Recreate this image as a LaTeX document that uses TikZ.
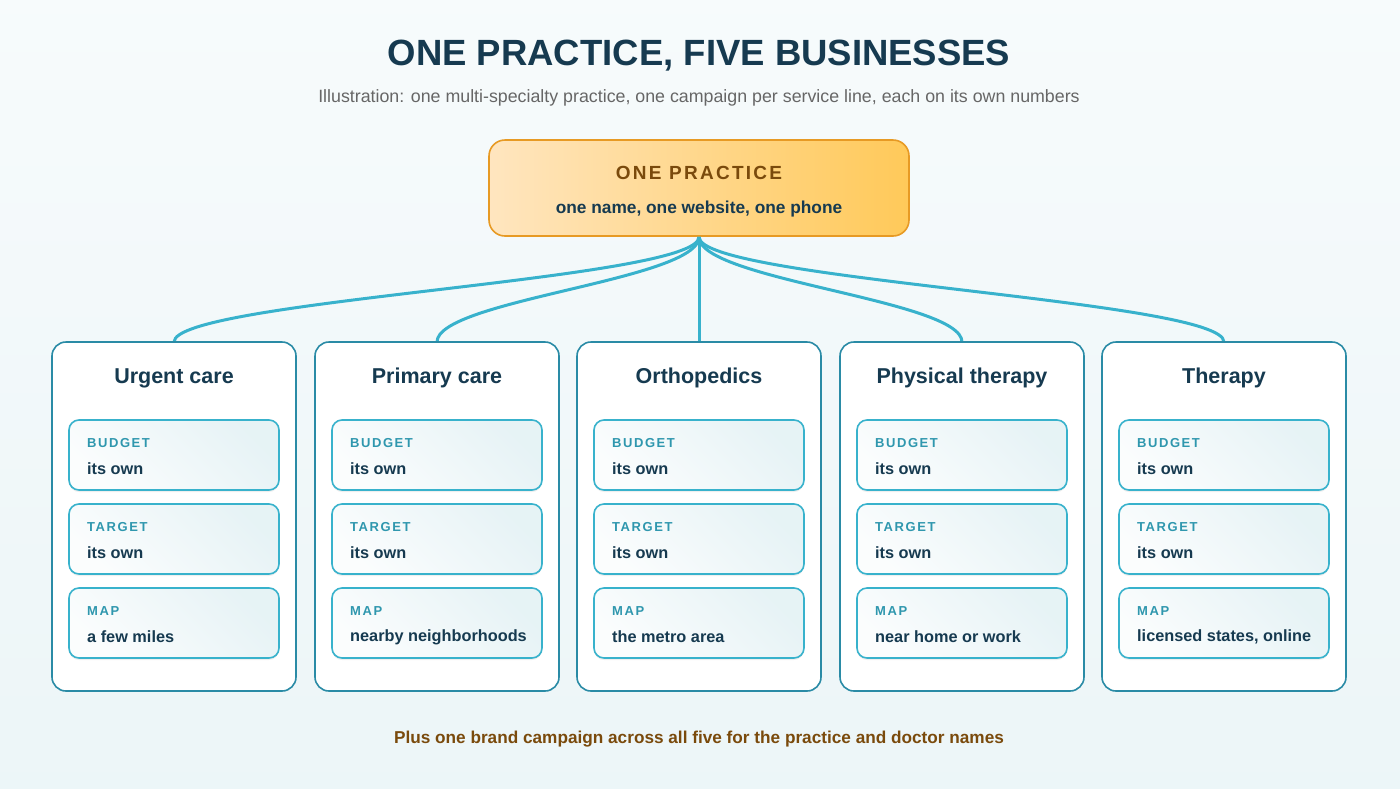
\documentclass[tikz,border=0pt]{standalone}
\usepackage{fontspec}
\setmainfont{Liberation Sans}
\usetikzlibrary{shadows}
\definecolor{navy}{HTML}{163A50}
\definecolor{teal}{HTML}{2F97AE}
\definecolor{line}{HTML}{38B2CC}
\definecolor{cardb}{HTML}{2A8BA6}
\definecolor{brown}{HTML}{7A4A0C}
\definecolor{gold}{HTML}{E79A24}
\begin{document}
\begin{tikzpicture}[x=1pt,y=-1pt,
  card/.style={draw=cardb,line width=1.6pt,rounded corners=14pt,fill=white},
  sub/.style={draw=line,line width=1.6pt,rounded corners=10pt,top color=white!60!teal!5,bottom color=teal!12,shading angle=135,drop shadow={shadow xshift=0pt,shadow yshift=-2pt,opacity=0.12}},
  lbl/.style={anchor=west,inner sep=0pt,text=teal,font=\bfseries\fontsize{13}{13}\selectfont\addfontfeature{LetterSpace=12}},
  val/.style={anchor=west,inner sep=0pt,text=navy,font=\bfseries\fontsize{16.3}{16}\selectfont},
  ttl/.style={text=navy,font=\bfseries\fontsize{21.5}{21}\selectfont},
  conn/.style={draw=line,line width=3pt}]
\shade[top color=white!96!teal, bottom color=teal!9] (0,0) rectangle (1400,788);
\useasboundingbox (0,0) rectangle (1400,788);
\node[text=navy,font=\bfseries\fontsize{36.5}{36}\selectfont] (title) at (699,56) {ONE PRACTICE, FIVE BUSINESSES};
\node[text=black!60,font=\fontsize{17.8}{17}\selectfont] (subt) at (699,98) {Illustration: one multi-specialty practice, one campaign per service line, each on its own numbers};
\shade[left color=yellow!20!orange!25, right color=yellow!35!orange!65,rounded corners=16pt] (489,140) rectangle (909,236);
\draw[draw=gold,line width=1.6pt,rounded corners=16pt] (489,140) rectangle (909,236);
\node[text=brown,font=\bfseries\fontsize{19}{19}\selectfont\addfontfeature{LetterSpace=12}] (top) at (699,173) {ONE PRACTICE};
\node[text=navy,font=\bfseries\fontsize{17.3}{17}\selectfont] (toptxt) at (699,209) {one name, one website, one phone};
\coordinate (hub) at (699,237);
\foreach \i/\cx/\t/\m in {1/174/Urgent care/a few miles,2/437/Primary care/nearby neighborhoods,3/699/Orthopedics/the metro area,4/962/Physical therapy/near home or work,5/1224/Therapy/{licensed states, online}}{
  \coordinate (c\i) at (\cx,342);
  \draw[conn] (c\i) .. controls (\cx,300) and (699,280) .. (hub);
  \draw[card] (\cx-122,342) rectangle (\cx+122,691);
  \node[ttl] (t\i) at (\cx,378) {\t};
  \foreach \j/\y/\l/\v in {1/420/BUDGET/its own,2/504/TARGET/its own,3/588/MAP/\m}{
    \draw[sub] (\cx-105,\y) rectangle (\cx+105,\y+70);
    \node[lbl] (l\i\j) at (\cx-87,\y+23) {\l};
    \node[val] (v\i\j) at (\cx-87,\y+49) {\v};
  }
}
\node[text=brown,font=\bfseries\fontsize{17.2}{16}\selectfont] (foot) at (699,739) {Plus one brand campaign across all five for the practice and doctor names};
\end{tikzpicture}
\end{document}
